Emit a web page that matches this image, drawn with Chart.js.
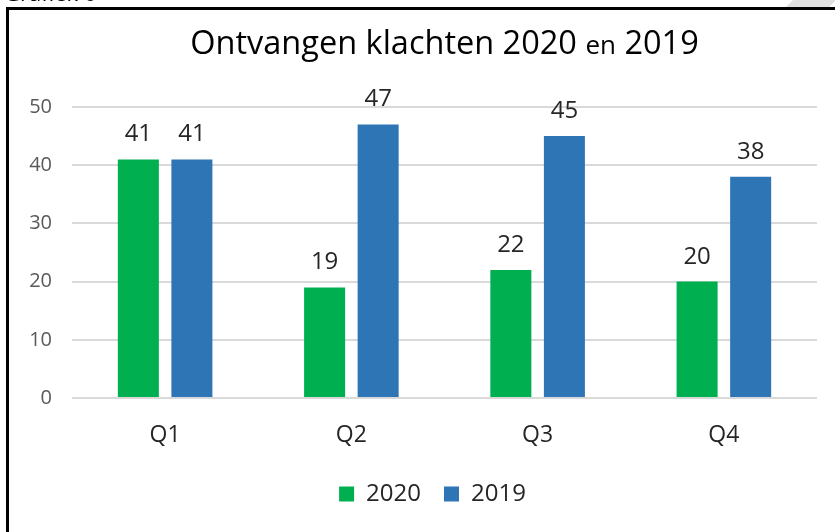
<!DOCTYPE html>
<html>
<head>
<meta charset="utf-8">
<script src="https://cdn.jsdelivr.net/npm/chart.js@4"></script>
<style>
  html, body { margin: 0; padding: 0; background: #fff; }
  #wrap { position: relative; width: 835px; height: 532px; overflow: hidden; }
  #frame { position: absolute; left: 6px; top: 7px; width: 900px; height: 600px;
           border-left: 3px solid #000; border-top: 3px solid #000; pointer-events: none; }
  #caption { position: absolute; left: 4px; top: -23px; font: 22px "Open Sans", sans-serif; color: #000; }
  #tab { position: absolute; left: 786px; top: 0; width: 50px; height: 7px; background: #e0e0e0;
         clip-path: polygon(14% 0, 100% 0, 86% 100%, 0 100%); }
</style>
</head>
<body>
<div id="wrap">
  <canvas id="myChart" width="835" height="532"></canvas>
  <div id="caption">Grafiek 6</div>
  <div id="tab"></div>
  <div id="frame"></div>
</div>
<script>
// data
const quarters = ["Q1", "Q2", "Q3", "Q4"]
const klachten2020 = [41, 19, 22, 20]
const klachten2019 = [41, 47, 45, 38]
const yTicks = [0, 10, 20, 30, 40, 50]

const FONT = '"Open Sans", sans-serif'

// title with the small "en" in the middle
const titlePlugin = {
    id: 'splitTitle',
    afterDraw(chart) {
        const ctx = chart.ctx
        const parts = [
            {text: "Ontvangen klachten 2020 ", size: 32.5},
            {text: "en", size: 26},
            {text: " 2019", size: 32.5}
        ]
        ctx.save()
        let total = 0
        for (let p of parts) {
            ctx.font = p.size + 'px ' + FONT
            p.w = ctx.measureText(p.text).width
            total += p.w
        }
        let x = (chart.chartArea.left + chart.chartArea.right) / 2 - total / 2
        ctx.fillStyle = '#000000'
        ctx.textBaseline = 'alphabetic'
        ctx.textAlign = 'left'
        for (let p of parts) {
            ctx.font = p.size + 'px ' + FONT
            ctx.fillText(p.text, x, 54)
            x += p.w
        }
        ctx.restore()
    }
}

// values above the bars
const valuePlugin = {
    id: 'barValues',
    afterDatasetsDraw(chart) {
        const ctx = chart.ctx
        ctx.save()
        ctx.font = '24px ' + FONT
        ctx.fillStyle = '#262626'
        ctx.textAlign = 'center'
        ctx.textBaseline = 'alphabetic'
        chart.data.datasets.forEach((ds, i) => {
            chart.getDatasetMeta(i).data.forEach((bar, j) => {
                ctx.fillText(String(ds.data[j]), bar.x, bar.y - 18)
            })
        })
        ctx.restore()
    }
}

// nudge the legend a bit to the right, like the original
const legendShift = {
    id: 'legendShift',
    afterLayout(chart) {
        if (chart.legend) {
            chart.legend.left += 19
            chart.legend.right += 19
        }
    }
}

new Chart("myChart", {
    type: "bar",
    data: {
        labels: quarters,
        datasets: [
            {label: "2020", data: klachten2020, backgroundColor: "#00B050"},
            {label: "2019", data: klachten2019, backgroundColor: "#2E75B6"}
        ]
    },
    options: {
        responsive: false,
        animation: false,
        categoryPercentage: 0.575,
        barPercentage: 0.766,
        layout: {
            padding: {left: 10, right: 18, top: 107, bottom: 16}
        },
        plugins: {
            title: {display: false},
            tooltip: {enabled: false},
            legend: {
                display: true,
                position: 'bottom',
                labels: {
                    boxWidth: 15,
                    boxHeight: 15,
                    padding: 23,
                    color: '#262626',
                    font: {family: FONT, size: 24}
                }
            }
        },
        scales: {
            x: {
                grid: {display: false, drawTicks: false},
                border: {display: false},
                ticks: {padding: 24, color: '#262626', font: {family: FONT, size: 23}},
                afterFit(scale) { scale.height = 61 }
            },
            y: {
                min: 0,
                max: 50,
                afterBuildTicks(scale) { scale.ticks = yTicks.map(v => ({value: v})) },
                grid: {color: '#d9d9d9', lineWidth: 2, drawTicks: false},
                border: {display: false},
                ticks: {padding: 20, color: '#595959', font: {family: FONT, size: 20}},
                afterFit(scale) { scale.width = 62 }
            }
        }
    },
    plugins: [titlePlugin, valuePlugin, legendShift]
})
</script>
</body>
</html>
